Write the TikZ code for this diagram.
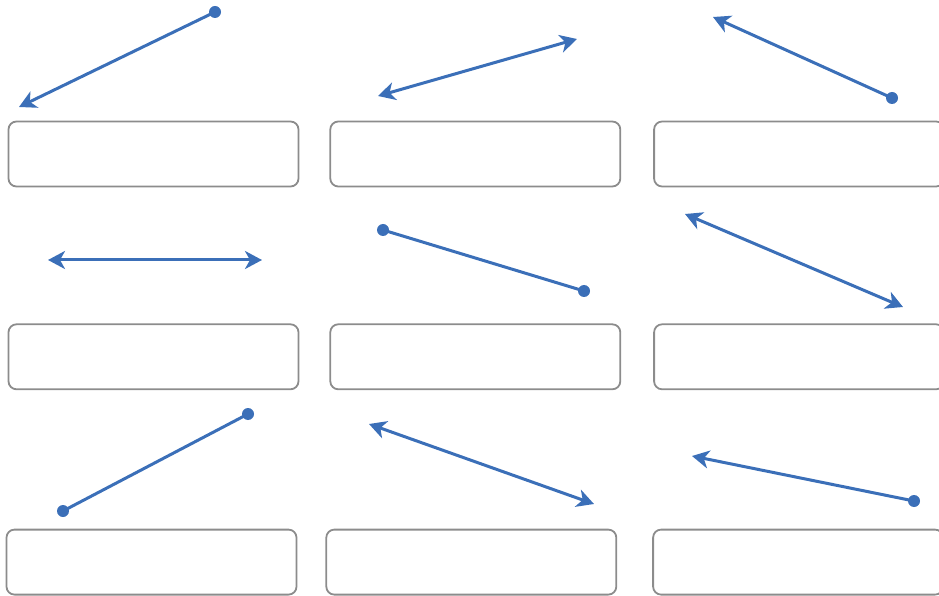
\documentclass[tikz,border=0pt]{standalone}
\usetikzlibrary{positioning,arrows.meta}
\definecolor{linkblue}{RGB}{59,111,184}
\definecolor{boxgray}{RGB}{140,140,140}
\begin{document}
\begin{tikzpicture}[x=1pt,y=1pt,
    slot/.style={rectangle,draw=boxgray,line width=1.8pt,rounded corners=8pt,
      minimum width=290pt,minimum height=65pt},
    dot/.style={circle,fill=linkblue,inner sep=0pt,minimum size=12pt},
    link/.style={draw=linkblue,line width=3pt},
    >={Stealth[length=17pt,width=18pt,inset=5pt]}]
  \clip (0,0) rectangle (939,595);
  % answer boxes
  \node[slot] (box11) at (153.5,441) {};
  \node[slot,right=30pt of box11] (box12) {};
  \node[slot,right=32pt of box12] (box13) {};
  \node[slot,below=136pt of box11] (box21) {};
  \node[slot,right=30pt of box21] (box22) {};
  \node[slot,right=32pt of box22] (box23) {};
  \node[slot,below=138.5pt of box21,xshift=-2pt] (box31) {};
  \node[slot,right=28pt of box31] (box32) {};
  \node[slot,right=35pt of box32] (box33) {};
  % arrow ends
  \node[dot] (a1s) at (215,583) {};
  \coordinate (a1e) at (19,488);
  \coordinate (a2s) at (378,499);
  \coordinate (a2e) at (577,556);
  \node[dot] (a3s) at (892,497) {};
  \coordinate (a3e) at (713,578);
  \coordinate (a4s) at (48,335);
  \coordinate (a4e) at (262,335);
  \node[dot] (a5s) at (383,365) {};
  \node[dot] (a5e) at (584,304) {};
  \coordinate (a6s) at (685,381);
  \coordinate (a6e) at (903,288);
  \node[dot] (a7s) at (63,84) {};
  \node[dot] (a7e) at (248,181) {};
  \coordinate (a8s) at (369,171);
  \coordinate (a8e) at (594,91);
  \node[dot] (a9s) at (914,94) {};
  \coordinate (a9e) at (692,139);
  % arrows
  \draw[link,->] (a1s.center) -- (a1e);
  \draw[link,<->] (a2s) -- (a2e);
  \draw[link,->] (a3s.center) -- (a3e);
  \draw[link,<->] (a4s) -- (a4e);
  \draw[link] (a5s.center) -- (a5e.center);
  \draw[link,<->] (a6s) -- (a6e);
  \draw[link] (a7s.center) -- (a7e.center);
  \draw[link,<->] (a8s) -- (a8e);
  \draw[link,->] (a9s.center) -- (a9e);
\end{tikzpicture}
\end{document}
